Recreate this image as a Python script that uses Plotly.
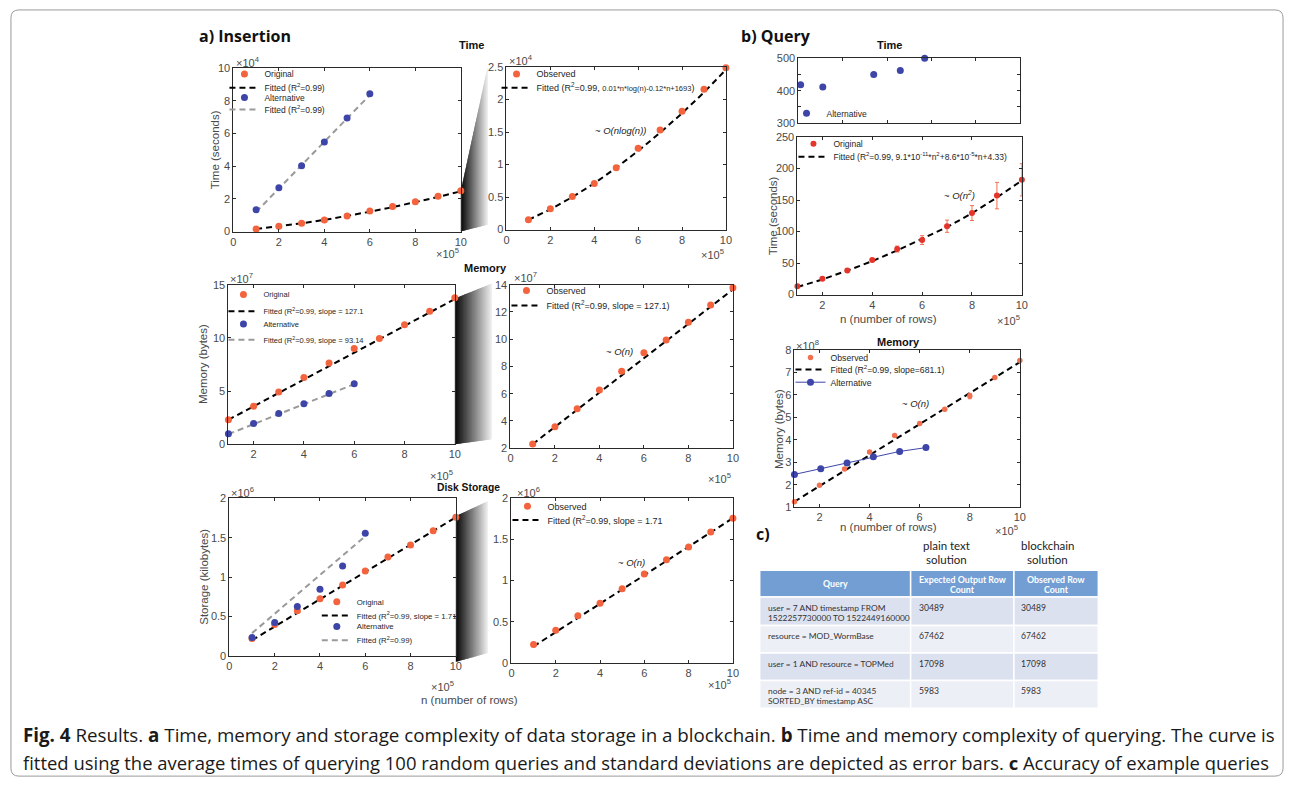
import plotly.graph_objects as go

W, H = 1294, 790
FONT = "Liberation Sans"
CAP_FONT = "Open Sans"
TBL_FONT = "Lato"

# ---------------- data ----------------
n_rows = [1, 2, 3, 4, 5, 6, 7, 8, 9, 10]          # x 10^5 rows
n_alt = [1, 2, 3, 4, 5, 6]
n_line = [1, 10]
n_alt_line = [1, 6]

# a) insertion time  (x 10^4 s)
ins_time_orig = [0.15, 0.32, 0.51, 0.71, 0.95, 1.25, 1.53, 1.82, 2.16, 2.49]
ins_time_fit = [0.15, 0.31, 0.50, 0.71, 0.95, 1.21, 1.49, 1.79, 2.11, 2.46]
ins_time_alt = [1.33, 2.67, 4.02, 5.48, 6.95, 8.43]
ins_time_alt_fit = [1.2, 8.35]

# a) insertion memory (x 10^7 bytes)
ins_mem_orig = [2.31, 3.58, 4.90, 6.27, 7.64, 9.00, 9.94, 11.24, 12.51, 13.78]
ins_mem_fit = [2.3, 13.65]
ins_mem_alt = [0.99, 1.95, 2.88, 3.80, 4.76, 5.69]
ins_mem_alt_fit = [0.95, 5.65]

# a) disk storage (x 10^6 kilobytes)
disk_orig = [0.223, 0.398, 0.574, 0.725, 0.90, 1.08, 1.255, 1.41, 1.59, 1.76]
disk_fit = [0.20, 1.76]
disk_alt = [0.233, 0.425, 0.629, 0.846, 1.142, 1.558]
disk_alt_fit = [0.29, 1.52]

# b) query time, alternative (seconds)
q_time_alt_x = [0.1, 1.1, 3.4, 4.6, 5.7]
q_time_alt = [418, 411, 450, 462, 500]

# b) query time, original (seconds)
q_time_orig = [13.1, 25.0, 38.2, 55.0, 72.2, 86.4, 108.4, 129.3, 157.0, 182.0]
q_time_err = [1.2, 1.5, 1.5, 1.5, 4.7, 7.0, 9.7, 11.8, 21.0, 25.6]
q_time_fit = [12, 24, 38, 53, 70, 88, 107, 129, 154, 181]

# b) query memory (x 10^8 bytes)
q_mem_orig = [1.25, 1.98, 2.70, 3.46, 4.19, 4.72, 5.36, 5.94, 6.76, 7.52]
q_mem_err = [0.03, 0.03, 0.03, 0.03, 0.03, 0.03, 0.03, 0.12, 0.03, 0.03]
q_mem_fit = [1.25, 7.45]
q_mem_alt_x = [1.0, 2.05, 3.1, 4.15, 5.2, 6.25]
q_mem_alt = [2.46, 2.71, 2.97, 3.24, 3.48, 3.65]

# c) table
tbl_header = [["Query"], ["Expected Output Row", "Count"], ["Observed Row", "Count"]]
tbl_query = [["user = 7 AND timestamp FROM", "1522257730000 TO 1522449160000"],
             ["resource = MOD_WormBase"],
             ["user = 1 AND resource = TOPMed"],
             ["node = 3 AND ref-id = 40345", "SORTED_BY timestamp ASC"]]
tbl_expected = ["30489", "67462", "17098", "5983"]
tbl_observed = ["30489", "67462", "17098", "5983"]

# ---------------- styling ----------------
ORANGE = "#F3643E"
BLUE = "#3D45A8"
RED = "#E5352A"
ERR = "#F0704F"
GRAY = "#9A9A9A"
AXC = "#2a2a2a"
TXT = "#4a4a4a"
LEG_DY = -4


def px(x):
    return x / W


def py(y):
    return 1 - y / H


fig = go.Figure()

# axes boxes in pixels: (left, right, top, bottom)
boxes = {
    1: (232, 461, 63, 229),
    2: (507, 728, 62, 227),
    3: (227, 455, 283, 445),
    4: (511, 735, 283, 449),
    5: (228, 456, 500, 660),
    6: (512, 735, 500, 667),
    7: (801, 1024, 53, 119),
    8: (800, 1026, 133, 293),
    9: (797, 1024, 349, 509),
}
xranges = {1: [0, 10], 2: [0, 10], 3: [1, 10], 4: [0, 10], 5: [0, 10], 6: [0, 10],
           7: [0, 10], 8: [1, 10], 9: [1, 10]}
yranges = {1: [0, 10], 2: [0, 2.5], 3: [0, 15], 4: [2, 14], 5: [0, 2], 6: [0, 2],
           7: [300, 500], 8: [0, 250], 9: [1, 8]}
ydt = {1: 2, 2: 0.5, 3: 5, 4: 2, 5: 0.5, 6: 0.5, 7: 100, 8: 50, 9: 1}

layout_axes = {}
for i, (l, r, t, b) in boxes.items():
    xk = "xaxis" if i == 1 else f"xaxis{i}"
    yk = "yaxis" if i == 1 else f"yaxis{i}"
    common = dict(showline=True, mirror="ticks", linecolor=AXC, linewidth=1,
                  ticks="inside", ticklen=3, tickcolor=AXC, showgrid=False,
                  zeroline=False, tickfont=dict(family=FONT, size=11, color=TXT))
    xa = dict(domain=[px(l), px(r)], range=xranges[i], anchor=f"y{i}" if i > 1 else "y", **common)
    if xranges[i][0] == 1:
        xa.update(tickvals=[2, 4, 6, 8, 10])
    else:
        xa.update(dtick=2, tick0=0)
    if i == 7:
        xa.update(showticklabels=False)
    ya = dict(domain=[py(b), py(t)], range=yranges[i], anchor=f"x{i}" if i > 1 else "x",
              dtick=ydt[i], tick0=0, **common)
    if i == 7:
        ya.update(tickvals=[300, 350, 400, 450, 500], ticktext=["300", "", "400", "", "500"])
    layout_axes[xk] = xa
    layout_axes[yk] = ya

legends = {}


def ax_ref(i):
    return ("x", "y") if i == 1 else (f"x{i}", f"y{i}")


def add(trace, i, leg=None):
    xr, yr = ax_ref(i)
    trace.xaxis = xr
    trace.yaxis = yr
    trace.cliponaxis = False
    if leg is None:
        trace.showlegend = False
    else:
        lx, ly, fs = leg
        k = len(legends) + 1
        key = "legend" if k == 1 else f"legend{k}"
        trace.showlegend = True
        trace.legend = key
        legends[key] = dict(x=px(lx), y=py(ly + LEG_DY), xanchor="left", yanchor="middle",
                            bgcolor="rgba(0,0,0,0)", borderwidth=0,
                            font=dict(family=FONT, size=fs, color="#262626"),
                            itemwidth=30, tracegroupgap=0, itemclick=False,
                            itemdoubleclick=False)
    fig.add_trace(trace)


def dots(x, y, color, name, size=7):
    return go.Scatter(x=x, y=y, mode="markers", name=name,
                      marker=dict(color=color, size=size, line=dict(width=0)))


def dline(x, y, color, name, width=2):
    return go.Scatter(x=x, y=y, mode="lines", name=name,
                      line=dict(color=color, width=width, dash="6px,4px"))


R2 = "R<sup>2</sup>=0.99"

# ---- a1: insertion time
add(dline(n_rows, ins_time_fit, "black", f"Fitted ({R2})"), 1, (223, 87, 8.5))
add(dline(n_alt_line, ins_time_alt_fit, GRAY, f"Fitted ({R2})"), 1, (223, 109, 8.5))
add(dots(n_rows, ins_time_orig, ORANGE, "Original"), 1, (223, 73, 8.5))
add(dots(n_alt, ins_time_alt, BLUE, "Alternative"), 1, (223, 97, 8.5))

# ---- a2: insertion time zoom
add(dline(n_rows, ins_time_fit, "black",
          f"Fitted ({R2}, <span style='font-size:7.5px'>0.01*n*log(n)-0.12*n+1693</span>)"),
    2, (497, 87, 9))
add(dots(n_rows, ins_time_orig, ORANGE, "Observed"), 2, (497, 73, 9))

# ---- a3: insertion memory
add(dline(n_line, ins_mem_fit, "black", f"Fitted ({R2}, slope = 127.1"), 3, (222, 314, 7.5))
add(dline(n_alt_line, ins_mem_alt_fit, GRAY, f"Fitted ({R2}, slope = 93.14"), 3, (222, 343, 7.5))
add(dots(n_rows, ins_mem_orig, ORANGE, "Original"), 3, (222, 297, 7.5))
add(dots(n_alt, ins_mem_alt, BLUE, "Alternative"), 3, (222, 327, 7.5))

# ---- a4: memory zoom
add(dline(n_line, ins_mem_fit, "black", f"Fitted ({R2}, slope = 127.1)"), 4, (507, 308, 9))
add(dots(n_rows, ins_mem_orig, ORANGE, "Observed"), 4, (507, 293, 9))

# ---- a5: disk storage
add(dline(n_line, disk_fit, "black", f"Fitted ({R2}, slope = 1.71"), 5, (316, 623, 7.8))
add(dline(n_alt_line, disk_alt_fit, GRAY, f"Fitted ({R2})"), 5, (316, 648, 7.8))
add(dots(n_rows, disk_orig, ORANGE, "Original"), 5, (316, 609, 7.8))
add(dots(n_alt, disk_alt, BLUE, "Alternative"), 5, (316, 634, 7.8))

# ---- a6: disk zoom
add(dline(n_line, disk_fit, "black", f"Fitted ({R2}, slope = 1.71"), 6, (508, 526, 9))
add(dots(n_rows, disk_orig, ORANGE, "Observed"), 6, (508, 512, 9))

# ---- b1: query time alternative
add(dots(q_time_alt_x, q_time_alt, BLUE, "Alternative"), 7, (789, 113, 8.5))

# ---- b2: query time
add(dline(n_rows, q_time_fit, "black",
          f"Fitted ({R2}, 9.1*10<sup>-11</sup>*n<sup>2</sup>+8.6*10<sup>-5</sup>*n+4.33)"),
    8, (796, 157, 8.5))
add(go.Scatter(x=n_rows, y=q_time_orig, mode="markers", name="Original",
               marker=dict(color=RED, size=6),
               error_y=dict(type="data", array=q_time_err, color=ERR, thickness=1, width=2)),
    8, (796, 144, 8.5))

# ---- b3: query memory
add(dline(n_line, q_mem_fit, "black", f"Fitted ({R2}, slope=681.1)"), 9, (793, 373, 8.7))
add(go.Scatter(x=n_rows, y=q_mem_orig, mode="markers", name="Observed",
               marker=dict(color=ERR, size=5.5),
               error_y=dict(type="data", array=q_mem_err, color=ERR, thickness=1, width=2)),
    9, (793, 361, 8.7))
add(go.Scatter(x=q_mem_alt_x, y=q_mem_alt, mode="lines+markers", name="Alternative",
               line=dict(color=BLUE, width=1), marker=dict(color=BLUE, size=7)),
    9, (793, 386, 8.7))

# ---------------- annotations ----------------
ann = []


def note(x, y, text, size=11, color=TXT, xanchor="center", yanchor="middle", angle=0,
         family=FONT, xref="paper", yref="paper"):
    if xref == "paper":
        x = px(x)
    if yref == "paper":
        y = py(y)
    ann.append(dict(x=x, y=y, xref=xref, yref=yref, text=text, showarrow=False,
                    font=dict(family=family, size=size, color=color),
                    xanchor=xanchor, yanchor=yanchor, textangle=angle))


# panel headings
note(195, 30, "<b>a) Insertion</b>", size=16, color="#111", xanchor="left", family=CAP_FONT)
note(741, 30, "<b>b) Query</b>", size=16, color="#111", xanchor="left", family=CAP_FONT)
note(756, 536, "<b>c)</b>", size=16, color="#111", xanchor="left", family=CAP_FONT)

# subplot titles
for x, y, t, s in [(472, 40, "Time", 11), (486, 266, "Memory", 11),
                   (469, 489, "Disk Storage", 10.3),
                   (893, 40, "Time", 11), (902, 341, "Memory", 11)]:
    note(x, y, f"<b>{t}</b>", size=s, color="#111")

# exponent labels
EXP = "\u00d710<sup>%d</sup>"
for x, y, e, anc in [(233, 57, 4, "left"), (461, 251, 5, "right"),
                     (508, 55, 4, "left"), (728, 252, 5, "right"),
                     (227, 276, 7, "left"), (455, 476, 5, "right"),
                     (513, 275, 7, "left"), (735, 479, 5, "right"),
                     (228, 493, 6, "left"), (456, 690, 5, "right"),
                     (516, 494, 6, "left"), (735, 688, 5, "right"),
                     (1026, 319, 5, "right"),
                     (797, 344, 8, "left"), (1024, 532, 5, "right")]:
    note(x, y, EXP % e, size=11, xanchor=anc)

# axis titles
note(213, 146, "Time (seconds)", size=11.5, angle=-90)
note(202, 364, "Memory (bytes)", size=11.5, angle=-90)
note(203, 580, "Storage (kilobytes)", size=11.5, angle=-90)
note(775, 213, "Time (seconds)", size=11.5, angle=-90)
note(782, 430, "Memory (bytes)", size=11.5, angle=-90)
note(470, 705, "n (number of rows)", size=11.5)
note(892, 318, "n (number of rows)", size=11.5)
note(892, 529, "n (number of rows)", size=11.5)

# complexity labels (data coords)
for i, x, y, t in [(2, 6.45, 1.52, "~ <i>O(nlog(n))</i>"), (4, 5.58, 9.08, "~ <i>O(n)</i>"),
                   (6, 6.14, 1.22, "~ <i>O(n)</i>"), (8, 8.21, 158, "~ <i>O(n<sup>2</sup>)</i>"),
                   (9, 6.47, 5.59, "~ <i>O(n)</i>")]:
    xr, yr = ax_ref(i)
    note(x, y, t, size=9.5, color="#222", xanchor="right", xref=xr, yref=yr)

# table column headers
note(950, 548, "plain text", size=11.5, color="#222", family=TBL_FONT)
note(950, 562, "solution", size=11.5, color="#222", family=TBL_FONT)
note(1052, 548, "blockchain", size=11.5, color="#222", family=TBL_FONT)
note(1052, 562, "solution", size=11.5, color="#222", family=TBL_FONT)

# caption
note(18, 740, "<b>Fig. 4</b> Results. <b>a</b> Time, memory and storage complexity of data storage "
              "in a blockchain. <b>b</b> Time and memory complexity of querying. The curve is",
     size=18.75, color="#1a1a1a", xanchor="left", family=CAP_FONT)
note(18, 768, "fitted using the average times of querying 100 random queries and standard "
              "deviations are depicted as error bars. <b>c</b> Accuracy of example queries",
     size=18.45, color="#1a1a1a", xanchor="left", family=CAP_FONT)

# ---------------- shapes: table, zoom wedges, frame ----------------
shapes = []


def rect(x0, y0, x1, y1, fill, line="white", lw=1.5, layer="below"):
    shapes.append(dict(type="rect", xref="paper", yref="paper",
                       x0=px(x0), x1=px(x1), y0=py(y1), y1=py(y0),
                       fillcolor=fill, line=dict(color=line, width=lw), layer=layer))


col_x = [762, 914, 1018, 1103]
row_y = [573, 600, 629, 657, 685, 713]
row_fill = ["#DCE1F0", "#EDEFF7", "#DCE1F0", "#EDEFF7"]
for c in range(3):
    rect(col_x[c], row_y[0], col_x[c + 1], row_y[1], "#739ED3")
    for r_ in range(4):
        rect(col_x[c], row_y[r_ + 1], col_x[c + 1], row_y[r_ + 2], row_fill[r_])

# header text
for c in range(3):
    cx = (col_x[c] + col_x[c + 1]) / 2
    lines = tbl_header[c]
    ys = [586] if len(lines) == 1 else [582, 593]
    for t, yy in zip(lines, ys):
        note(cx, yy, f"<b>{t}</b>", size=8.8, color="white", family=TBL_FONT)
# body text
for r_ in range(4):
    top = row_y[r_ + 1]
    for k, t in enumerate(tbl_query[r_]):
        note(768, top + 11 + 10 * k, t, size=8.4, color="#333", xanchor="left", family=TBL_FONT)
    note(920, top + 11, tbl_expected[r_], size=8.6, color="#333", xanchor="left", family=TBL_FONT)
    note(1023, top + 11, tbl_observed[r_], size=8.6, color="#333", xanchor="left", family=TBL_FONT)


def wedge(xl, ytl, ybl, xr, ytr, ybr, n=28):
    for k in range(n):
        t0, t1 = k / n, min((k + 1.8) / n, 1.0)
        xa, xb = xl + t0 * (xr - xl), xl + t1 * (xr - xl)
        yta, ytb = ytl + t0 * (ytr - ytl), ytl + t1 * (ytr - ytl)
        yba, ybb = ybl + t0 * (ybr - ybl), ybl + t1 * (ybr - ybl)
        g = int(10 + 225 * (k / (n - 1)))
        path = (f"M{px(xa)},{py(yta)} L{px(xb)},{py(ytb)} L{px(xb)},{py(ybb)} "
                f"L{px(xa)},{py(yba)} Z")
        shapes.append(dict(type="path", path=path, xref="paper", yref="paper",
                           fillcolor=f"rgb({g},{g},{g})", line=dict(width=0), layer="below"))


wedge(461, 188, 229, 488, 62, 222)
wedge(455, 297, 445, 492, 282, 440)
wedge(456, 518, 666, 488, 503, 657)

# rounded outer frame
L, R, T, B, r = 8, 1289, 4, 782, 8
frame = (f"M{px(L + r)},{py(T)} L{px(R - r)},{py(T)} Q{px(R)},{py(T)} {px(R)},{py(T + r)} "
         f"L{px(R)},{py(B - r)} Q{px(R)},{py(B)} {px(R - r)},{py(B)} "
         f"L{px(L + r)},{py(B)} Q{px(L)},{py(B)} {px(L)},{py(B - r)} "
         f"L{px(L)},{py(T + r)} Q{px(L)},{py(T)} {px(L + r)},{py(T)} Z")
shapes.append(dict(type="path", path=frame, xref="paper", yref="paper",
                   line=dict(color="#9a9a9a", width=1), layer="below"))

fig.update_layout(
    width=W, height=H, margin=dict(l=0, r=0, t=0, b=0),
    paper_bgcolor="white", plot_bgcolor="white",
    annotations=ann, shapes=shapes, **layout_axes, **legends,
)

fig.write_html("out.html", config={"displayModeBar": False},
               post_script="document.body.style.margin='0';"
                           "document.body.style.overflow='hidden';")
